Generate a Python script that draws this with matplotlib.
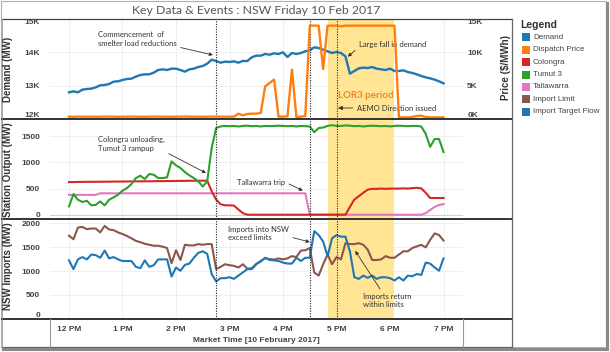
import numpy as np
import matplotlib.pyplot as plt
from matplotlib.patches import Rectangle

plt.rcParams['font.family'] = ['Liberation Sans', 'DejaVu Sans']

# 5-minute dispatch intervals from 12:00 to 19:00, in hours after noon
hours = np.arange(85) / 12
hour_ticks = [0, 1, 2, 3, 4, 5, 6, 7]
hour_labels = ['12 PM', '1 PM', '2 PM', '3 PM', '4 PM', '5 PM', '6 PM', '7 PM']

demand = [12800, 12830, 12800, 12880, 12900, 12910, 12950, 13010, 13020, 13050,
          13120, 13130, 13170, 13200, 13210, 13270, 13320, 13340, 13340, 13390,
          13470, 13490, 13470, 13510, 13510, 13470, 13420, 13490, 13510, 13560,
          13590, 13660, 13780, 13740, 13690, 13720, 13710, 13730, 13690, 13740,
          13740, 13850, 13900, 13900, 13950, 13930, 13970, 13950, 14000, 13860,
          13980, 13950, 13980, 14030, 14060, 14150, 14130, 14080, 14030, 13980,
          14010, 13980, 13880, 13360, 13440, 13520, 13540, 13530, 13560, 13510,
          13490, 13470, 13510, 13440, 13440, 13460, 13410, 13380, 13340, 13290,
          13250, 13220, 13180, 13130, 13070]
price = [350, 330, 360, 350, 340, 350, 330, 350, 360, 350,
         350, 330, 350, 350, 360, 350, 340, 330, 350, 360,
         350, 350, 340, 330, 350, 350, 370, 350, 340, 350,
         330, 350, 350, 360, 350, 340, 350, 350, 800, 550,
         750, 800, 800, 900, 4900, 5400, 5900, 350, 350, 400,
         7400, 300, 350, 450, 14000, 14000, 14000, 7500, 14000, 14000,
         14000, 13900, 14000, 14000, 14000, 14000, 14000, 14000, 14000, 14000,
         14000, 14000, 14000, 14000, 250, 250, 250, 300, 450, 500,
         300, 250, 250, 250, 250]
colongra = [625, 625, 628, 628, 630, 630, 630, 632, 632, 633,
            635, 635, 635, 637, 638, 638, 640, 640, 640, 642,
            643, 643, 645, 645, 646, 648, 648, 650, 650, 650,
            652, 652, 450, 290, 200, 180, 180, 175, 100, 30,
            0, 0, 0, 0, 0, 0, 0, 0, 0, 0,
            0, 0, 0, 0, 0, 0, 0, 0, 0, 0,
            0, 0, 0, 150, 290, 355, 420, 480, 495, 495,
            500, 495, 500, 500, 500, 505, 500, 510, 515, 505,
            420, 320, 320, 320, 320]
tumut3 = [160, 395, 287, 243, 268, 179, 190, 255, 179, 287,
          332, 383, 460, 510, 587, 702, 747, 683, 779, 766,
          702, 702, 715, 1022, 945, 894, 817, 753, 702, 639,
          540, 639, 1277, 1660, 1690, 1700, 1695, 1700, 1690, 1700,
          1705, 1695, 1700, 1690, 1700, 1695, 1700, 1705, 1700, 1695,
          1700, 1690, 1700, 1695, 1690, 1580, 1660, 1670, 1700, 1715,
          1700, 1700, 1710, 1705, 1695, 1700, 1690, 1700, 1705, 1700,
          1695, 1700, 1690, 1700, 1705, 1700, 1695, 1700, 1700, 1690,
          1550, 1300, 1450, 1450, 1200]
tallawarra = [380, 380, 380, 380, 380, 380, 380, 410, 410, 410,
              410, 410, 410, 410, 410, 410, 410, 410, 410, 410,
              410, 410, 410, 410, 410, 410, 410, 410, 410, 410,
              410, 410, 410, 410, 410, 410, 410, 410, 410, 410,
              410, 410, 410, 410, 410, 410, 410, 410, 410, 410,
              410, 410, 410, 410, 0, 0, 0, 0, 0, 0,
              0, 0, 0, 0, 0, 0, 0, 0, 0, 0,
              0, 0, 0, 0, 0, 0, 0, 0, 0, 0,
              30, 90, 150, 185, 205]
import_limit = [1741, 1666, 1911, 1924, 1877, 1890, 1890, 1809, 1945, 1870,
                1856, 1809, 1775, 1734, 1686, 1632, 1605, 1571, 1550, 1530,
                1530, 1510, 1482, 1163, 1435, 1231, 1550, 1537, 1537, 1564,
                1550, 1564, 1564, 1040, 1088, 1142, 1122, 1108, 1074, 1142,
                1050, 1060, 1150, 1210, 1270, 1250, 1240, 1265, 1244, 1265,
                1312, 1292, 1428, 1435, 1482, 970, 904, 1142, 1346, 1142,
                1292, 1244, 1584, 1564, 1564, 1584, 1550, 1448, 1231, 1231,
                1244, 1312, 1278, 1278, 1346, 1414, 1414, 1482, 1516, 1550,
                1496, 1652, 1788, 1754, 1639]
import_flow = [1224, 1040, 1244, 1292, 1244, 1346, 1333, 1278, 1428, 1265,
               1292, 1244, 1210, 1210, 1210, 1088, 1060, 1224, 1088, 1122,
               1244, 1244, 1244, 884, 1074, 1006, 1129, 1156, 1278, 1380,
               1414, 1360, 938, 782, 850, 850, 870, 836, 904, 972,
               1040, 1040, 1142, 1200, 1278, 1230, 1224, 1210, 1176, 1156,
               1156, 1278, 1210, 1278, 1278, 1836, 1754, 1618, 1312, 1686,
               1754, 1720, 1720, 1414, 870, 836, 904, 857, 904, 836,
               870, 870, 850, 802, 870, 802, 904, 891, 938, 918,
               1176, 1156, 1074, 1006, 1265]

event_times = [2.75, 4.5, 5.0]      # 14:45, 16:30, 17:00
lor3_span = (4.833, 6.083)          # 16:50 - 18:05

legend_names = ['Demand', 'Dispatch Price', 'Colongra', 'Tumut 3',
                'Tallawarra', 'Import Limit', 'Import Target Flow']
colors = ['#1f77b4', '#ff7f0e', '#d62728', '#2ca02c', '#e377c2', '#8c564b', '#1f77b4']

W, H = 610, 352
fig = plt.figure(figsize=(W / 100, H / 100), dpi=100)


def panel(top_px):
    return fig.add_axes([50 / W, 1 - (top_px + 100) / H, 413 / W, 100 / H])


ax1 = panel(19)
ax2 = panel(119)
ax3 = panel(219)

tick_font = dict(fontsize=6, fontweight='bold', color='#444')
for ax in (ax1, ax2, ax3):
    ax.set_xlim(-0.355, 7.364)
    ax.set_xticks(hour_ticks)
    for s in ax.spines.values():
        s.set_visible(False)
    ax.grid(color='#ececec', lw=0.6)
    ax.set_axisbelow(True)
    ax.tick_params(length=0, pad=7, labelsize=6, labelcolor='#444')
    ax.axvspan(*lor3_span, color='#ffe594', lw=0, zorder=1)
    for t in event_times:
        ax.axvline(t, color='#222', ls=(0, (1, 1.3)), lw=0.8, zorder=4)
    for lab in ax.get_yticklabels():
        lab.set_fontweight('bold')

# top panel: demand + price
ax1.set_ylim(12000, 15000)
ax1.set_yticks([12000, 13000, 14000, 15000])
ax1.set_yticklabels(['12K', '13K', '14K', '15K'], **tick_font)
ax1.plot(hours, demand, color=colors[0], lw=1.7, zorder=3)
axp = ax1.twinx()
axp.set_xlim(-0.355, 7.364)
axp.set_ylim(0, 15000)
axp.set_yticks([0, 5000, 10000, 15000])
axp.set_yticklabels(['0K', '5K', '10K', '15K'], **tick_font)
axp.tick_params(length=0, pad=3)
for s in axp.spines.values():
    s.set_visible(False)
axp.plot(hours, price, color=colors[1], lw=1.7, zorder=3)
for a in (ax1, axp):
    labs = a.get_yticklabels()
    labs[0].set_va('bottom')
    labs[-1].set_va('top')

# middle panel: station outputs
ax2.set_ylim(-82, 1833)
ax2.set_yticks([0, 500, 1000, 1500])
ax2.set_yticklabels(['0', '500', '1000', '1500'], **tick_font)
ax2.axhline(0, color='#aaa', ls=(0, (1, 1)), lw=0.6, zorder=2)
ax2.plot(hours, tallawarra, color=colors[4], lw=1.5, zorder=3)
ax2.plot(hours, colongra, color=colors[2], lw=1.5, zorder=3)
ax2.plot(hours, tumut3, color=colors[3], lw=1.5, zorder=3)

# bottom panel: imports
ax3.set_ylim(-5, 2090)
ax3.set_yticks([0, 500, 1000, 1500, 2000])
ax3.set_yticklabels(['0', '500', '1000', '1500', '2000'], **tick_font)
ax3.get_yticklabels()[0].set_va('bottom')
ax3.plot(hours, import_limit, color=colors[5], lw=1.5, zorder=3)
ax3.plot(hours, import_flow, color=colors[6], lw=1.5, zorder=3)

for ax in (ax1, ax2):
    ax.tick_params(labelbottom=False)
ax3.set_xticklabels(hour_labels, **tick_font)
ax3.tick_params(axis='x', pad=5)

# annotations
note = dict(fontsize=5.5, family=['Lato', 'DejaVu Sans'], color='#333', va='center', ha='left')
arr = dict(arrowstyle='-|>', color='#333', lw=0.6, mutation_scale=5, shrinkA=1, shrinkB=0)
ax1.annotate('Commencement  of\nsmelter load reductions', xy=(2.69, 13920), xytext=(0.54, 14400),
             arrowprops=dict(arr, relpos=(1, 0)), **note)
ax1.annotate('Large fall in demand', xy=(5.21, 13870), xytext=(5.42, 14220),
             arrowprops=dict(arr, relpos=(0, 0.2)), **note)
ax1.annotate('AEMO Direction issued', xy=(5.03, 12330), xytext=(5.38, 12330),
             arrowprops=dict(arr, relpos=(0, 0.5), mutation_scale=6), **note)
ax1.text(5.03, 12720, 'LOR3 period', color='#f5822a', fontsize=7, fontweight='bold',
         family=['Lato', 'DejaVu Sans'], va='center', zorder=5)
ax2.annotate('Colongra unloading,\nTumut 3 rampup', xy=(2.56, 799), xytext=(0.54, 1355),
             arrowprops=dict(arr, relpos=(1, 0)), **note)
ax2.annotate('Tallawarra trip', xy=(4.37, 460), xytext=(3.14, 626),
             arrowprops=dict(arr, relpos=(1, 0.5)), **note)
ax3.annotate('Imports into NSW\nexceed limits', xy=(4.50, 1608), xytext=(2.97, 1785),
             arrowprops=dict(arr, relpos=(1, 0.3)), **note)
ax3.annotate('Imports return\nwithin limits', xy=(5.35, 1421), xytext=(5.50, 381),
             arrowprops=dict(arr, relpos=(0.4, 1)), **note)

# overlay in pixel coordinates for frame, titles and legend
ov = fig.add_axes([0, 0, 1, 1], zorder=10)
ov.set_xlim(0, W)
ov.set_ylim(H, 0)
ov.axis('off')
ov.patch.set_alpha(0)

ov.add_patch(Rectangle((0.5, 0.5), 605, 346.5, fill=False, ec='#b0b0b0', lw=0.8))
ov.plot([607, 607], [3, 349], color='#8a8a8a', lw=2.2)
ov.plot([3, 607], [348.5, 348.5], color='#8a8a8a', lw=2.2)
for y, lw, c in [(19, 0.9, '#444'), (119, 1.4, '#333'), (219, 1.4, '#333'),
                 (319, 1.4, '#333'), (346.5, 0.9, '#666')]:
    ov.plot([2, 512], [y, y], color=c, lw=lw)
ov.plot([512, 512], [19, 346.5], color='#666', lw=0.9)
ov.plot([2, 2], [19, 346.5], color='#999', lw=0.6)
ov.plot([50, 50], [319, 346.5], color='#999', lw=0.8)
ov.plot([463, 463], [319, 346.5], color='#999', lw=0.8)

ov.text(256, 10, 'Key Data & Events : NSW Friday 10 Feb 2017', ha='center', va='center',
        fontsize=8.8, color='#555', family=['Lato', 'DejaVu Sans'])
lab = dict(rotation=90, ha='center', va='center', fontsize=7, fontweight='bold', color='#333')
ov.text(8, 69, 'Demand (MW)', **lab)
ov.text(8, 170, 'Station Output (MW)', **lab)
ov.text(8, 266, 'NSW Imports (MW)', **lab)
ov.text(506, 67, 'Price ($/MWh)', **lab)
ov.text(256, 340, 'Market Time [10 February 2017]', ha='center', va='center',
        fontsize=6, fontweight='bold', color='#444')

ov.text(520, 25, 'Legend', ha='left', va='center', fontsize=7.5, fontweight='bold', color='#333')
for i, (name, c) in enumerate(zip(legend_names, colors)):
    y = 37.3 + i * 12.4
    ov.add_patch(Rectangle((522, y - 4), 8, 8, color=c, lw=0))
    ov.text(533, y, name, ha='left', va='center', fontsize=5.8, color='#444')

fig.savefig('out.png', dpi=100)
